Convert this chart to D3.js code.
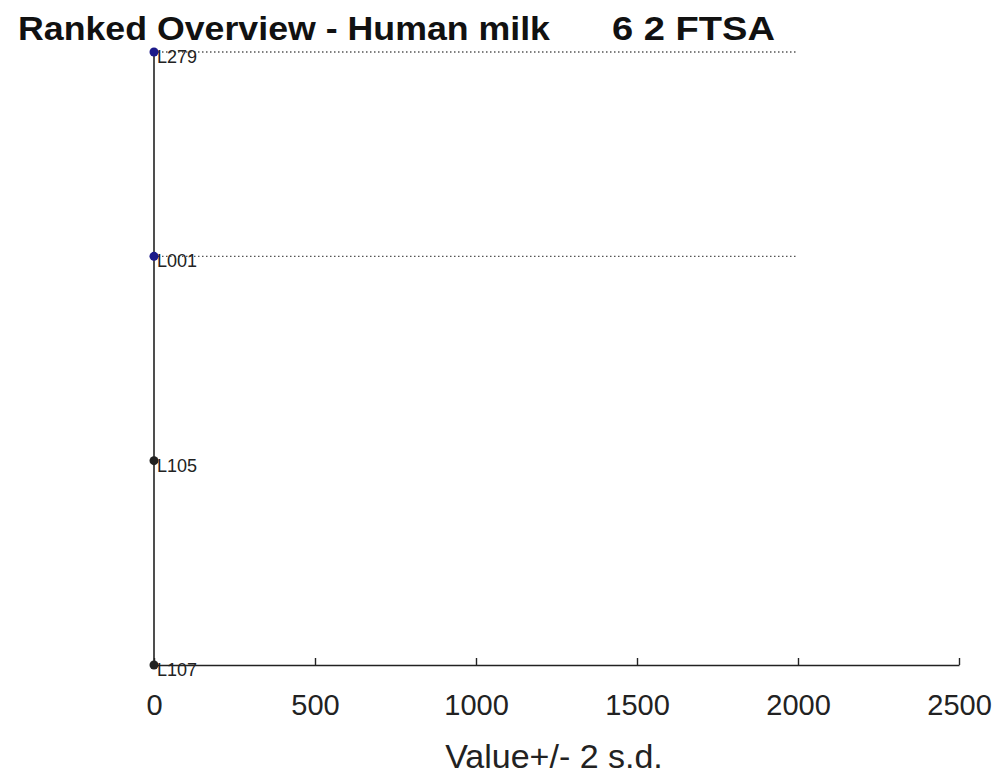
<!DOCTYPE html>
<html><head><meta charset="utf-8">
<script src="https://cdn.jsdelivr.net/npm/d3@7"></script>
<style>body{margin:0;background:#fff;} svg{display:block;font-family:"Liberation Sans",Arial,sans-serif;}</style>
</head><body>
<script>
const labs = ["L279", "L001", "L105", "L107"];
const values = [0, 0, 0, 0];
const highlighted = [true, true, false, false];
const refEnd = [2000, 2000, null, null];
const xTicks = [0, 500, 1000, 1500, 2000, 2500];

const W = 1005, H = 776;
const svg = d3.select("body").append("svg").attr("width", W).attr("height", H);
const x = d3.scaleLinear().domain([0, 2500]).range([154, 959]);
const y = d3.scalePoint().domain(labs).range([52, 665]);

// title
svg.append("text").attr("x", 18).attr("y", 40).attr("font-size", 33).attr("font-weight", "bold")
  .attr("fill", "#111").attr("textLength", 532).attr("lengthAdjust", "spacingAndGlyphs")
  .text("Ranked Overview - Human milk");
svg.append("text").attr("x", 612).attr("y", 40).attr("font-size", 33).attr("font-weight", "bold")
  .attr("fill", "#111").attr("textLength", 163).attr("lengthAdjust", "spacingAndGlyphs")
  .text("6 2 FTSA");

// dotted reference lines
labs.forEach((l, i) => {
  if (refEnd[i] != null) {
    svg.append("line").attr("x1", x(values[i])).attr("x2", x(refEnd[i]))
      .attr("y1", y(l)).attr("y2", y(l))
      .attr("stroke", "#555").attr("stroke-width", 1.3).attr("stroke-dasharray", "1.5,2.5");
  }
});

// axes
const xAxis = svg.append("g").attr("transform", `translate(0,${y("L107")})`)
  .call(d3.axisBottom(x).tickValues(xTicks).tickFormat(d3.format("d"))
    .tickSize(-7).tickSizeOuter(0).tickPadding(29));
xAxis.select(".domain").attr("stroke", "#222").attr("stroke-width", 1.4);
xAxis.selectAll(".tick line").attr("stroke", "#222").attr("stroke-width", 1.4);
xAxis.selectAll(".tick text").attr("font-size", 29).attr("fill", "#222")
  .attr("font-family", "Liberation Sans, Arial, sans-serif");

svg.append("line").attr("x1", x(0)).attr("x2", x(0)).attr("y1", y("L279")).attr("y2", y("L107"))
  .attr("stroke", "#222").attr("stroke-width", 1.6);

svg.append("text").attr("x", 554).attr("y", 768).attr("text-anchor", "middle")
  .attr("font-size", 34).attr("fill", "#222").text("Value+/- 2 s.d.");

// points
labs.forEach((l, i) => {
  svg.append("text").attr("x", x(values[i]) + 3).attr("y", y(l) + 11)
    .attr("font-size", 18).attr("fill", "#222").text(l);
  svg.append("circle").attr("cx", x(values[i])).attr("cy", y(l)).attr("r", 4.5)
    .attr("fill", highlighted[i] ? "#1c1a8a" : "#222");
});
</script>
</body></html>
